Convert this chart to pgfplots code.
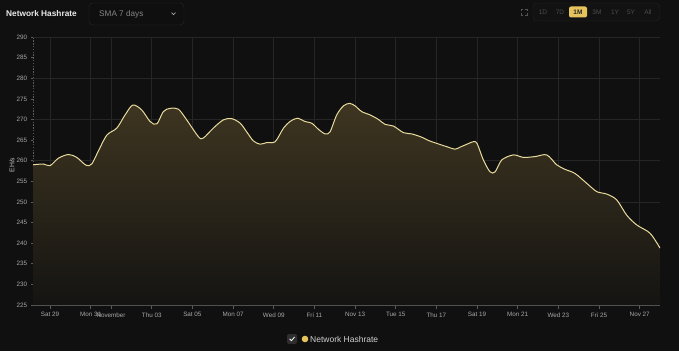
\documentclass[border=0pt]{standalone}
\usepackage{fontspec}
\setmainfont{Liberation Sans}
\usepackage{pgfplots}
\pgfplotsset{compat=1.18}
\definecolor{bg}{HTML}{101010}
\definecolor{gridc}{HTML}{262626}
\definecolor{linec}{HTML}{E9DB9C}
\definecolor{filltop}{HTML}{3E3521}
\definecolor{fillbot}{HTML}{151412}
\definecolor{tickc}{HTML}{A8A8A8}
\definecolor{axisc}{HTML}{5A5A5A}
\definecolor{gold}{HTML}{E6C35C}
\pgfplotstableread{
x y
-0.84 259.0
-0.33 259.2
0 258.8
0.41 260.6
0.9 261.5
1.31 260.8
1.77 258.9
2.05 259.2
2.38 262.4
2.79 266.2
3.28 267.9
3.69 271.1
4.07 273.5
4.51 272.3
4.92 269.5
5.25 268.9
5.57 271.9
5.9 272.7
6.31 272.5
6.72 269.9
7.3 265.8
7.54 265.5
8.03 267.9
8.52 269.9
8.93 270.2
9.35 269.1
9.67 267.0
10.0 264.8
10.33 264.0
10.66 264.4
11.07 264.6
11.48 267.9
11.8 269.5
12.16 270.3
12.54 269.5
12.87 269.1
13.2 267.6
13.53 266.5
13.77 267.0
14.1 271.1
14.43 273.3
14.73 273.9
15.0 273.3
15.33 271.9
15.74 271.1
16.15 270.0
16.48 268.8
16.89 268.4
17.38 266.8
17.79 266.5
18.28 265.7
18.61 264.9
19.02 264.2
19.51 263.4
19.92 262.8
20.17 263.3
20.41 263.8
20.82 264.6
21.0 264.2
21.31 260.2
21.64 257.3
21.89 257.3
22.22 260.2
22.79 261.4
23.28 260.8
23.86 261.0
24.43 261.4
24.92 259.0
25.33 257.9
25.82 256.9
26.4 254.5
26.89 252.5
27.38 251.9
27.87 250.5
28.36 246.8
28.86 244.4
29.51 242.4
30.0 238.8
}\hashdata
\begin{document}
\begin{tikzpicture}[x=1pt,y=1pt]
\fill[bg] (0,0) rectangle (679,351);
\useasboundingbox (0,0) rectangle (679,351);
% header
\node[anchor=west,inner sep=0,text=white!92!black,font=\fontsize{8.3}{10}\selectfont\bfseries] at (6,337) {Network Hashrate};
\draw[rounded corners=4pt,draw=white!16!black,fill=white!6!black] (89,326) rectangle (184,348);
\node[anchor=west,inner sep=0,text=white!52!black,font=\fontsize{8.2}{10}\selectfont] at (99,337) {SMA 7 days};
\draw[white!65!black,line width=0.7pt] (171.5,338.3)--(173.5,336.3)--(175.5,338.3);
% range buttons
\begin{scope}[draw=white!33!black,line width=0.7pt]
\draw (521,340)--(521,342)--(523,342); \draw (525,342)--(527,342)--(527,340);
\draw (521,338)--(521,336)--(523,336); \draw (525,336)--(527,336)--(527,338);
\end{scope}
\draw[rounded corners=4pt,draw=white!14!black,fill=white!7!black] (533,330) rectangle (660,348);
\fill[gold,rounded corners=2pt] (569,333.5) rectangle (587,344.5);
\begin{scope}[every node/.style={inner sep=0,font=\fontsize{6.5}{8}\selectfont,text=white!30!black}]
\node at (543,339) {1D};
\node at (560,339) {7D};
\node[text=black!85,font=\fontsize{6.5}{8}\selectfont\bfseries] at (578,339) {1M};
\node at (597,339) {3M};
\node at (615,339) {1Y};
\node at (631,339) {5Y};
\node at (648,339) {All};
\end{scope}
% y label
\node[rotate=90,inner sep=0,text=white!75!black,font=\fontsize{6.8}{8}\selectfont] at (12,186) {EH/s};
\begin{axis}[
  at={(33pt,46pt)}, anchor=south west,
  width=627pt, height=268pt, scale only axis,
  xmin=-0.84, xmax=30, ymin=225, ymax=290,
  axis lines=left,
  axis line style={-},
  x axis line style={draw=axisc,line width=0.8pt},
  y axis line style={draw=axisc,line width=0.9pt,dash pattern=on 1.4pt off 1.4pt},
  ytick={225,230,...,290},
  minor ytick={230,240,...,290},
  yminorgrids, minor tick length=0pt,
  minor grid style={gridc,line width=0.5pt},
  xtick={0,2,3,5,7,9,11,13,15,17,19,21,23,25,27,29},
  xticklabels={Sat 29,Mon 31,November,Thu 03,Sat 05,Mon 07,Wed 09,Fri 11,Nov 13,Tue 15,Thu 17,Sat 19,Mon 21,Wed 23,Fri 25,Nov 27},
  xmajorgrids, major grid style={gridc,line width=0.5pt},
  tick align=outside,
  xtick style={axisc,line width=0.6pt,/pgfplots/major tick length=4pt},
  ytick style={axisc,line width=0.6pt,/pgfplots/major tick length=2pt},
  ticklabel style={text=tickc,font=\fontsize{6.3}{7}\selectfont},
  yticklabel style={inner sep=1pt,xshift=-0.5pt},
  xticklabel style={inner sep=1pt,yshift=-2pt},
  /pgf/number format/assume math mode=true,
  clip=true,
]
\addplot[draw=none,top color=filltop,bottom color=fillbot,smooth,tension=0.5] table[x=x,y=y]{\hashdata} \closedcycle;
\addplot[linec,line width=1pt,smooth,tension=0.5] table[x=x,y=y]{\hashdata};
\end{axis}
% legend
\fill[white!18!black,rounded corners=2pt] (287,7) rectangle (297,17);
\draw[white,line width=0.8pt] (289.6,12.2)--(291.4,10.3)--(294.5,14);
\fill[gold] (305,12) circle (3.3);
\node[anchor=west,inner sep=0,text=white!82!black,font=\fontsize{8.5}{10}\selectfont] at (310,12) {Network Hashrate};
\end{tikzpicture}
\end{document}
